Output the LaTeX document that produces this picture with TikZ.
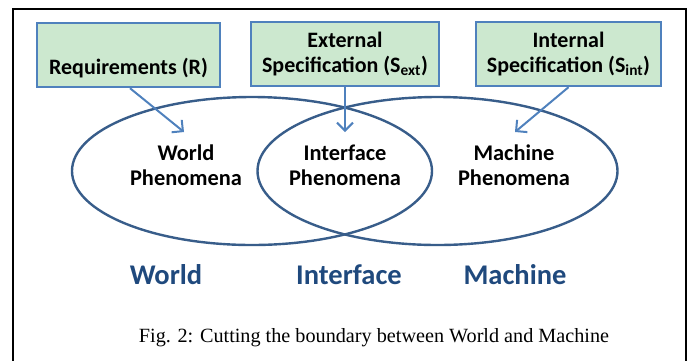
\documentclass[tikz,border=0pt]{standalone}
\usepackage{fontspec}
\setmainfont{Carlito}
\newfontfamily\capfont{Liberation Serif}
\usetikzlibrary{shapes.geometric,arrows.meta}
\definecolor{ellblue}{RGB}{56,93,138}
\definecolor{arrblue}{RGB}{79,129,189}
\definecolor{boxgreen}{RGB}{204,232,207}
\definecolor{lblblue}{RGB}{31,73,125}
\begin{document}
\begin{tikzpicture}[x=1pt,y=-1pt,
  specbox/.style={draw=arrblue,line width=2.4pt,fill=boxgreen,minimum height=64pt,inner sep=0pt,align=center,font=\fontsize{22}{25}\selectfont\bfseries},
  phen/.style={align=center,font=\fontsize{22.4}{25}\selectfont\bfseries,inner sep=0pt},
  region/.style={draw=ellblue,line width=2.4pt,ellipse,minimum width=360pt,minimum height=148pt,inner sep=0pt},
  arr/.style={draw=arrblue,line width=2pt,-{Straight Barb[length=8pt,width=16pt,line width=2pt]}},
  biglabel/.style={font=\fontsize{28.5}{30}\selectfont\bfseries,text=lblblue,inner sep=0pt}]
\useasboundingbox (0,0) rectangle (699,360);
% frame
\draw[line width=2.4pt] (13,365) -- (13,9) -- (686,9) -- (686,365);
% ellipses
\node[region] (WE) at (252,171) {};
\node[region] (ME) at (437.5,171) {};
% boxes
\node[specbox,minimum width=183pt] (R) at (128.5,55) {\strut\\Requirements (R)};
\node[specbox,minimum width=188pt] (Sext) at (345,54) {External\\Specification (S\textsubscript{ext})};
\node[specbox,minimum width=185pt] (Sint) at (568.5,54) {Internal\\Specification (S\textsubscript{int})};
% phenomena
\node[phen] (WP) at (186,165) {World\\Phenomena};
\node[phen] (IP) at (345,165) {Interface\\Phenomena};
\node[phen] (MP) at (514,165) {Machine\\Phenomena};
% arrow tips
\coordinate (wtip) at (184,132);
\coordinate (itip) at (345,132);
\coordinate (mtip) at (515,132);
\draw[arr] (R.south) ++(1.5,0) coordinate (rs) -- (wtip);
\draw[arr] (Sext.south) -- (itip);
\draw[arr] (Sint.south) -- (mtip);
% big labels
\node[biglabel] (LW) at (166,275) {World};
\node[biglabel] (LI) at (349,275) {Interface};
\node[biglabel] (LM) at (515,275) {Machine};
% caption
\node[inner sep=0pt,font=\capfont\fontsize{20.2}{24}\selectfont] (cap) at (374,338) {Fig. 2: Cutting the boundary between World and Machine};
\end{tikzpicture}
\end{document}
